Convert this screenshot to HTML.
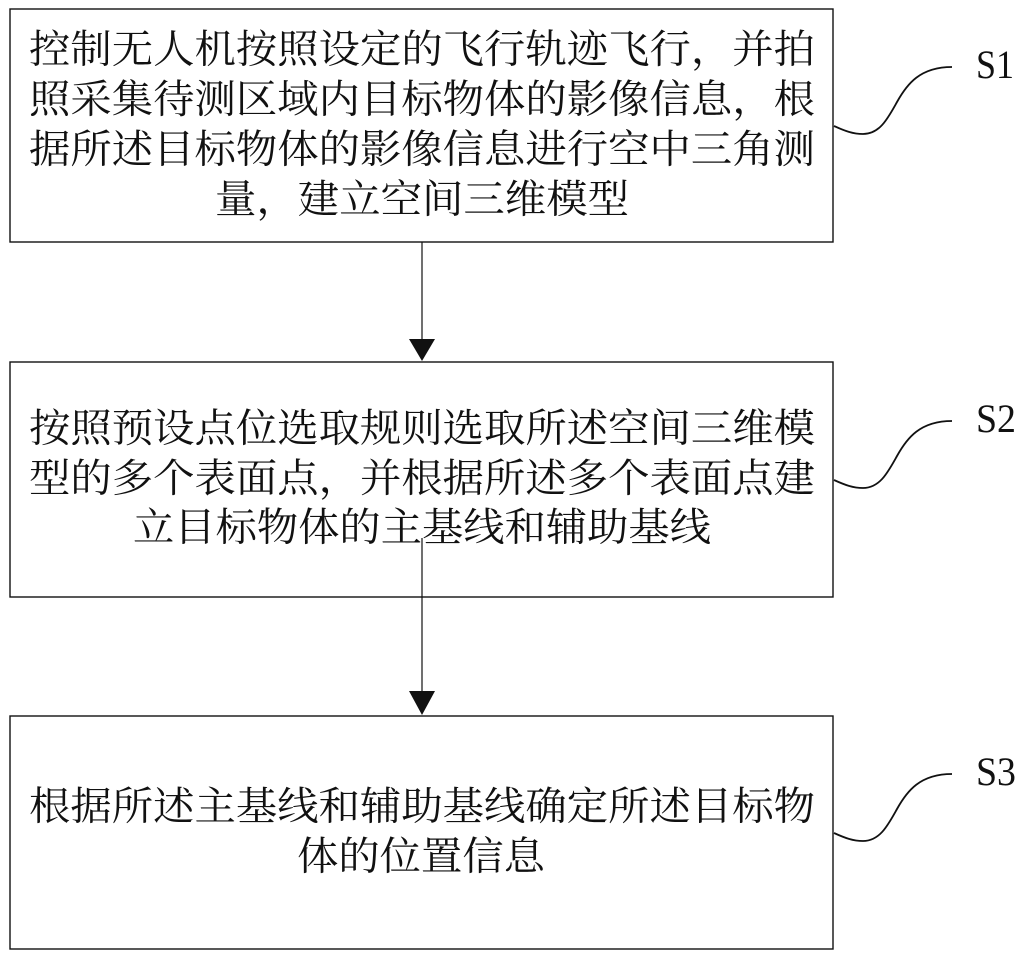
<!DOCTYPE html>
<html>
<head>
<meta charset="utf-8">
<style>
html,body{margin:0;padding:0;background:#fff;width:1023px;height:960px;overflow:hidden}
svg{display:block}
text{font-family:"Noto Serif CJK SC","Liberation Serif",serif;font-size:39.5px;fill:#111}
.s{font-family:"Liberation Serif",serif;font-size:40px}
</style>
</head>
<body>
<svg width="1023" height="960" viewBox="0 0 1023 960">
<g fill="none" stroke="#111" stroke-width="1.4">
<rect x="10" y="9" width="823" height="233"/>
<rect x="10" y="362" width="823" height="235"/>
<rect x="10" y="716" width="823" height="233"/>
</g>
<g fill="none" stroke="#111" stroke-width="1.2">
<line x1="422" y1="242" x2="422" y2="340"/>
<line x1="422" y1="538" x2="422" y2="692"/>
</g>
<g fill="none" stroke="#111" stroke-width="1.8">
<path d="M834 126 C845 131 853 134 863 134 C880 134 888 118 897 102 C907 84 920 67 952 67"/>
<path d="M834 480 C845 485 853 488 863 488 C880 488 888 472 897 456 C907 438 920 421 952 421"/>
<path d="M834 833 C845 838 853 841 863 841 C880 841 888 825 897 809 C907 791 920 774 952 774"/>
</g>
<polygon points="409,339 435,339 422,361" fill="#111"/>
<polygon points="409,691 435,691 422,715" fill="#111"/>
<text x="29" y="63" textLength="786" lengthAdjust="spacingAndGlyphs">控制无人机按照设定的飞行轨迹飞行，并拍</text>
<text x="29" y="113" textLength="786" lengthAdjust="spacingAndGlyphs">照采集待测区域内目标物体的影像信息，根</text>
<text x="29" y="163" textLength="786" lengthAdjust="spacingAndGlyphs">据所述目标物体的影像信息进行空中三角测</text>
<text x="215" y="213" textLength="414" lengthAdjust="spacingAndGlyphs">量，建立空间三维模型</text>
<text x="29" y="442" textLength="786" lengthAdjust="spacingAndGlyphs">按照预设点位选取规则选取所述空间三维模</text>
<text x="29" y="492" textLength="786" lengthAdjust="spacingAndGlyphs">型的多个表面点，并根据所述多个表面点建</text>
<text x="133" y="541" textLength="578" lengthAdjust="spacingAndGlyphs">立目标物体的主基线和辅助基线</text>
<text x="29" y="820" textLength="786" lengthAdjust="spacingAndGlyphs">根据所述主基线和辅助基线确定所述目标物</text>
<text x="297" y="870" textLength="248" lengthAdjust="spacingAndGlyphs">体的位置信息</text>
<text class="s" x="976" y="78" textLength="38" lengthAdjust="spacingAndGlyphs">S1</text>
<text class="s" x="976" y="432" textLength="40" lengthAdjust="spacingAndGlyphs">S2</text>
<text class="s" x="976" y="785" textLength="40" lengthAdjust="spacingAndGlyphs">S3</text>
</svg>
</body>
</html>
